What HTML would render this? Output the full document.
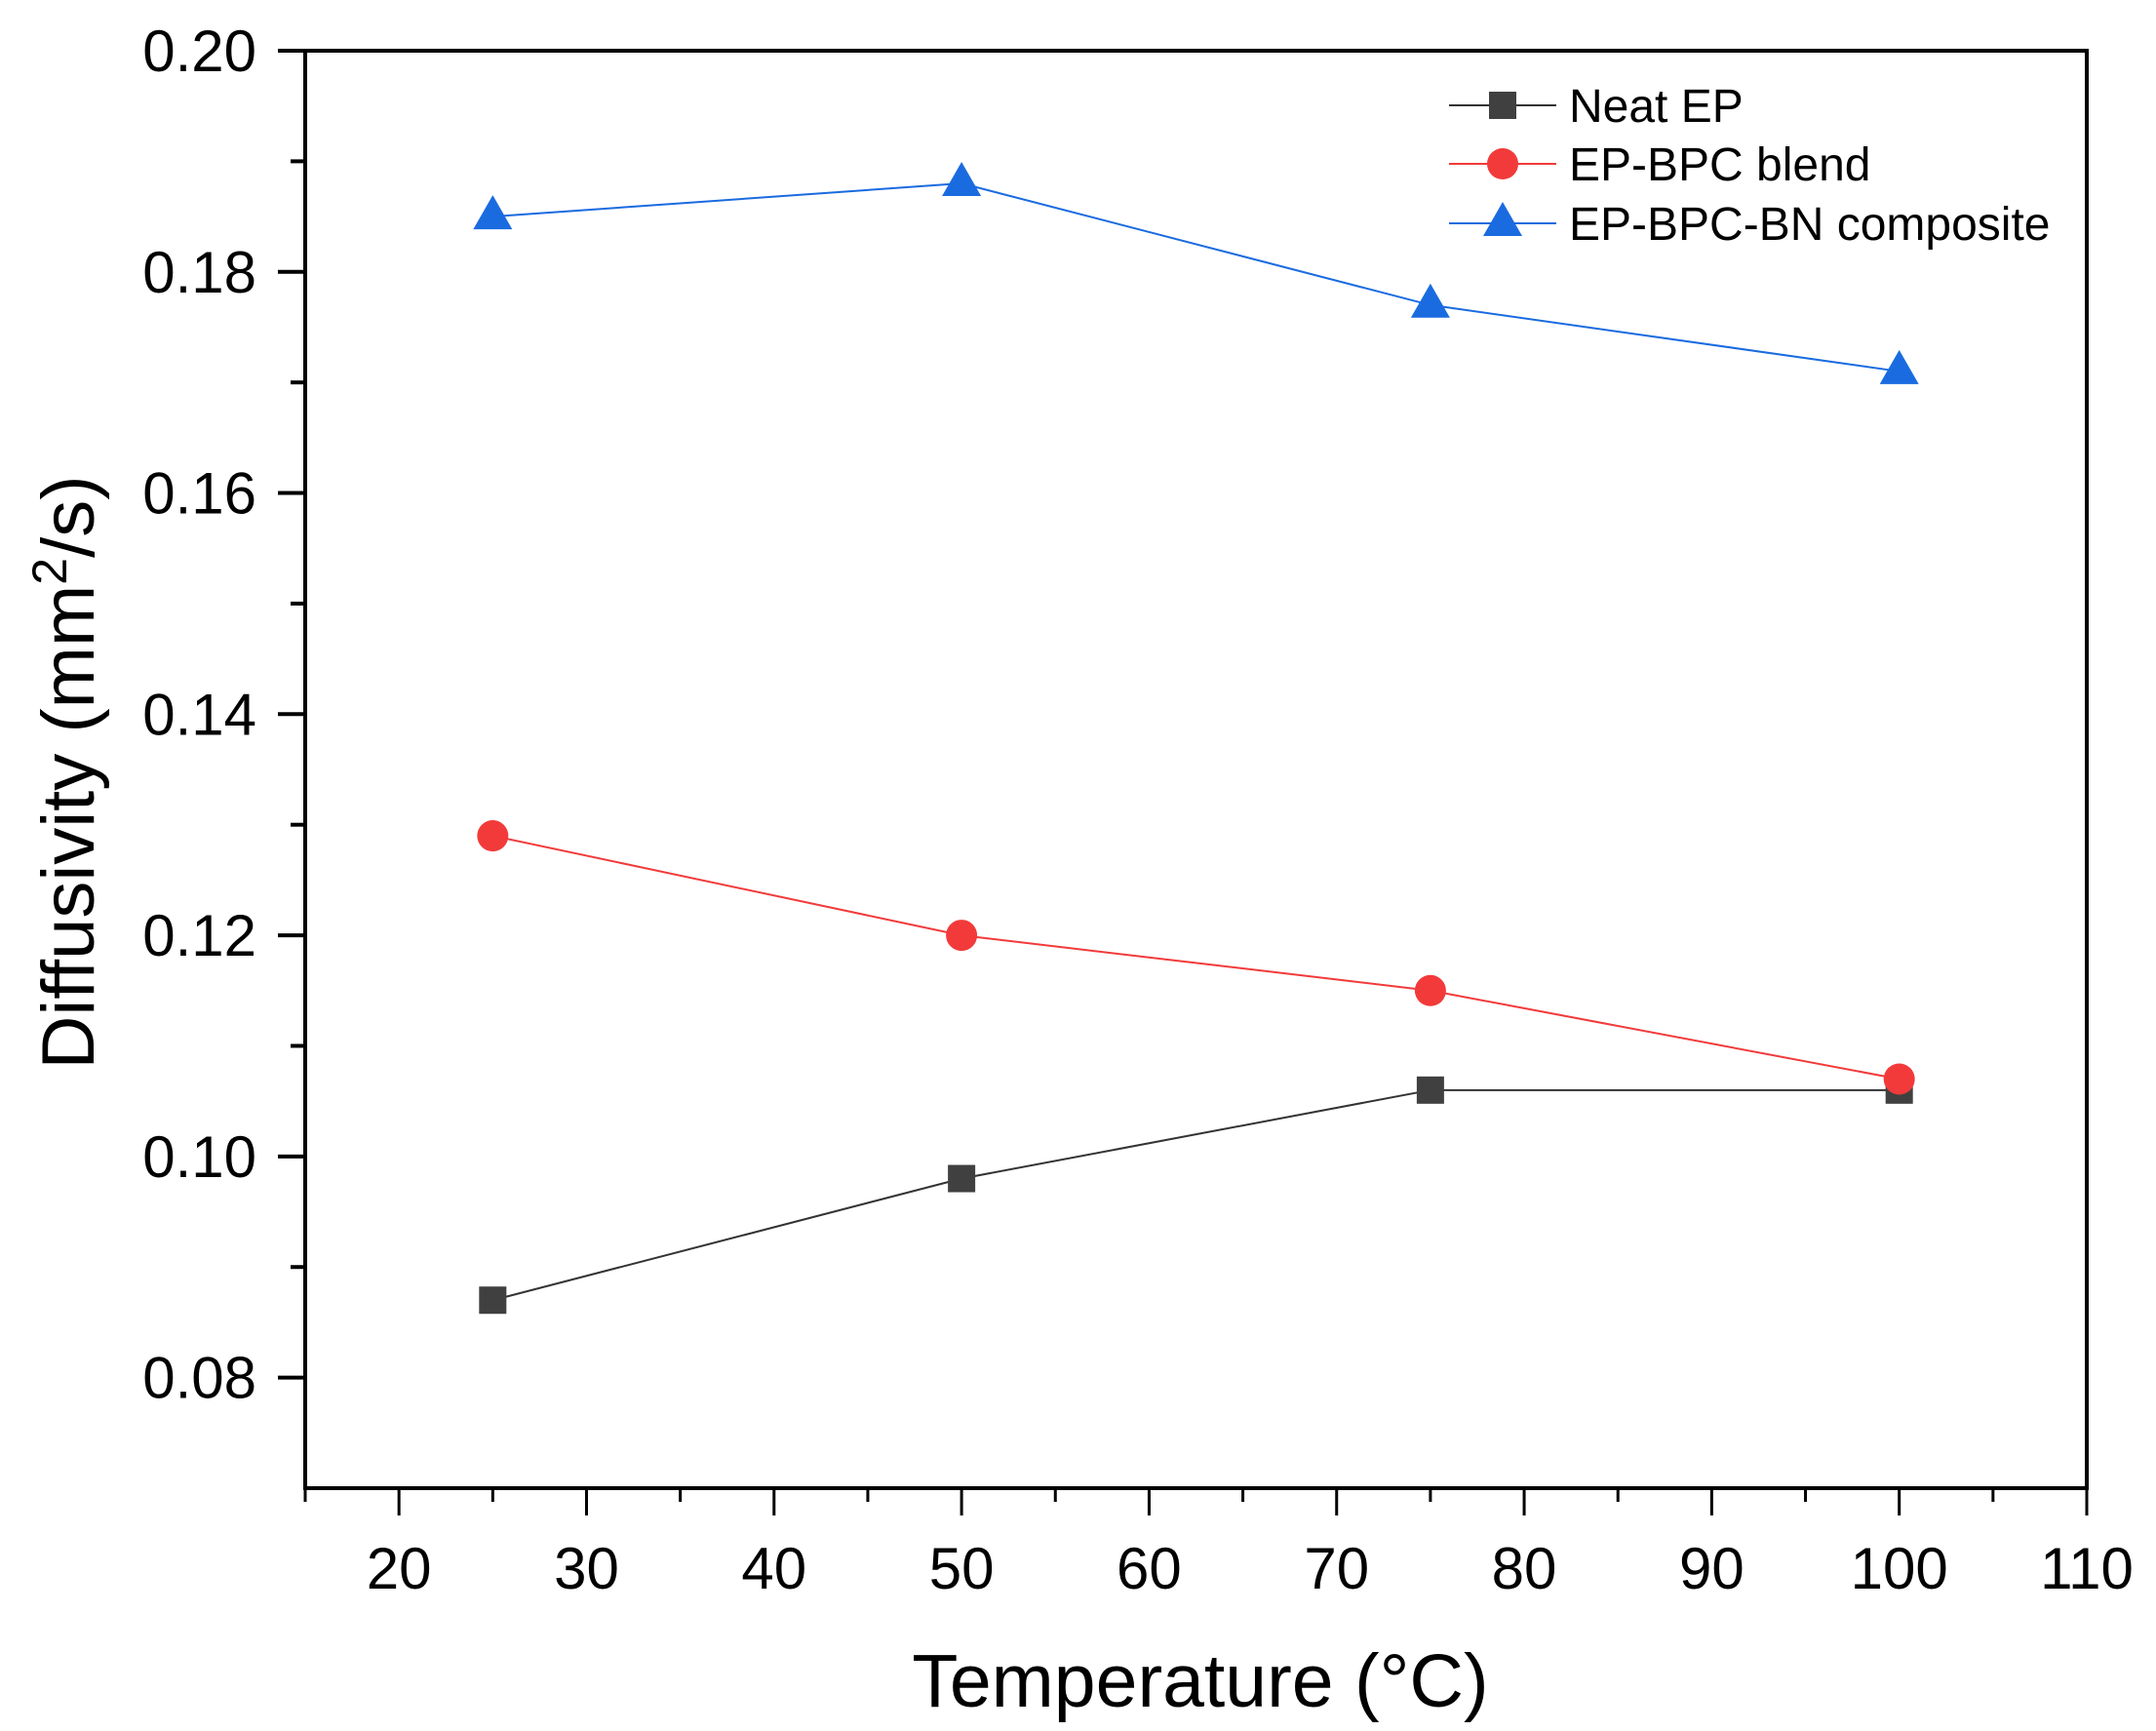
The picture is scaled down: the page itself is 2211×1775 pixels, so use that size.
<!DOCTYPE html>
<html><head><meta charset="utf-8"><style>
html,body{margin:0;padding:0;background:#fff;}
svg{display:block;font-family:"Liberation Sans",Arial,sans-serif;}
</style></head><body>
<svg id="chart" width="2211" height="1775" viewBox="0 0 2211 1775">
<g id="axes"></g>
<g id="series"></g>
<g id="legend"></g>
<text x="1231" y="1750" font-size="77" text-anchor="middle">Temperature (°C)</text>
<text transform="translate(96,792) rotate(-90)" font-size="76" text-anchor="middle">Diffusivity (mm<tspan font-size="50" dy="-28">2</tspan><tspan dy="28">/s)</tspan></text>
</svg>
<script>
const categories = [25, 50, 75, 100];
const neatEP = [0.087, 0.098, 0.106, 0.106];
const blend = [0.129, 0.120, 0.115, 0.107];
const composite = [0.185, 0.188, 0.177, 0.171];
const xTicks = [20, 30, 40, 50, 60, 70, 80, 90, 100, 110];
const yTicks = [0.08, 0.10, 0.12, 0.14, 0.16, 0.18, 0.20];
const seriesNames = ["Neat EP", "EP-BPC blend", "EP-BPC-BN composite"];

const NS = "http://www.w3.org/2000/svg";
const L = 313, R = 2140, T = 52, B = 1526;
const xMin = 15, xMax = 110, yMin = 0.07, yMax = 0.20;
const X = v => L + (v - xMin) / (xMax - xMin) * (R - L);
const Y = v => B - (v - yMin) / (yMax - yMin) * (B - T);
function mk(tag, attrs, parent) {
  const e = document.createElementNS(NS, tag);
  for (const k in attrs) e.setAttribute(k, attrs[k]);
  parent.appendChild(e);
  return e;
}
const axes = document.getElementById('axes');
const frame = mk('rect', {x: L, y: T, width: R - L, height: B - T, fill: 'none', stroke: '#000', 'stroke-width': 4}, axes);


for (let v = 15; v <= 110; v += 5) {
  const major = v % 10 === 0;
  const t = mk('line', {x1: X(v), x2: X(v), y1: B, y2: B + (major ? 28 : 14), stroke: '#000', 'stroke-width': 3}, axes);
  
  
}
xTicks.forEach(v => {
  const t = mk('text', {x: X(v), y: 1629, 'font-size': 60, 'text-anchor': 'middle'}, axes);
  t.textContent = v;
  
  
});
for (let i = 8; i <= 20; i++) {
  const v = i / 100;
  const major = i % 2 === 0;
  const t = mk('line', {x1: L, x2: L - (major ? 28 : 15), y1: Y(v), y2: Y(v), stroke: '#000', 'stroke-width': 4}, axes);
  
  
}
yTicks.forEach(v => {
  const t = mk('text', {x: 263, y: Y(v) + 21, 'font-size': 60, 'text-anchor': 'end'}, axes);
  t.textContent = v.toFixed(2);
  
  
});
function marker(kind, cx, cy, color, parent) {
  let m;
  if (kind === 'square') m = mk('rect', {x: cx - 14, y: cy - 14, width: 28, height: 28, fill: color}, parent);
  else if (kind === 'circle') m = mk('circle', {cx: cx, cy: cy, r: 16, fill: color}, parent);
  else m = mk('polygon', {points: `${cx},${cy - 22} ${cx - 20},${cy + 13} ${cx + 20},${cy + 13}`, fill: color}, parent);
  return m;
}
const seriesDefs = [
  {vals: neatEP, color: '#404040', line: '#333', kind: 'square', name: 'neat-ep'},
  {vals: blend, color: '#f23a3a', line: '#f23a3a', kind: 'circle', name: 'ep-bpc-blend'},
  {vals: composite, color: '#1a6be0', line: '#1a6be0', kind: 'triangle', name: 'ep-bpc-bn-composite'}
];
const sg = document.getElementById('series');
seriesDefs.forEach(s => {
  const pts = categories.map((c, i) => X(c) + ',' + Y(s.vals[i])).join(' ');
  const pl = mk('polyline', {points: pts, fill: 'none', stroke: s.line, 'stroke-width': 2}, sg);
  
  
  categories.forEach((c, i) => {
    const m = marker(s.kind, X(c), Y(s.vals[i]), s.color, sg);
    
    
  });
});
const lg = document.getElementById('legend');
const legY = [108, 168, 229];
seriesDefs.forEach((s, i) => {
  const ln = mk('line', {x1: 1486, x2: 1596, y1: legY[i], y2: legY[i], stroke: s.line, 'stroke-width': 2}, lg);
  
  
  const m = marker(s.kind, 1541, legY[i], s.color, lg);
  
  
  const t = mk('text', {x: 1609, y: legY[i] + 17, 'font-size': 48}, lg);
  t.textContent = seriesNames[i];
  
  
});
</script>
</body></html>
